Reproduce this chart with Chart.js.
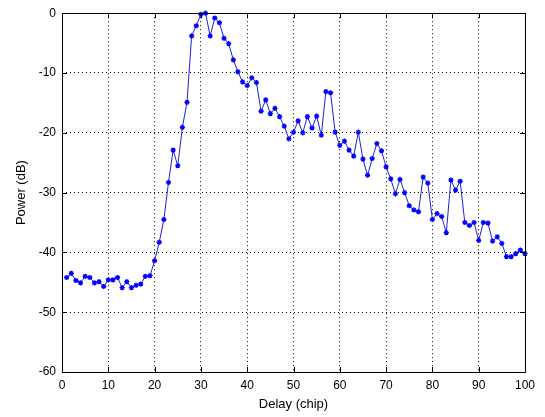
<!DOCTYPE html>
<html>
<head>
<meta charset="utf-8">
<script src="https://cdn.jsdelivr.net/npm/chart.js@4/dist/chart.umd.min.js"></script>
<style>
  body { margin: 0; background: #fff; }
  #wrap { width: 545px; height: 417px; }
</style>
</head>
<body>
<div id="wrap"><canvas id="c" width="545" height="417"></canvas></div>
<script>
// data
const delays = [];
for (let i = 1; i <= 100; i++) delays.push(i);

const power = [
  -44.2, -43.5, -44.7, -45.1, -44.0, -44.2, -45.1, -44.9, -45.7, -44.6,
  -44.6, -44.2, -45.9, -44.9, -45.9, -45.5, -45.3, -44.0, -43.9, -41.4,
  -38.3, -34.5, -28.3, -22.9, -25.5, -19.1, -14.9, -3.8, -2.1, -0.2,
  0.0, -3.8, -0.8, -1.6, -4.2, -5.1, -7.8, -9.8, -11.5, -12.1,
  -10.8, -11.6, -16.4, -14.5, -16.8, -15.9, -17.3, -18.9, -21.0, -19.9,
  -18.0, -20.0, -17.3, -19.2, -17.2, -20.4, -13.1, -13.3, -19.9, -22.1,
  -21.4, -22.9, -23.9, -19.9, -24.4, -27.1, -24.3, -21.8, -23.0, -25.7,
  -27.7, -30.2, -27.8, -30.0, -32.2, -32.9, -33.2, -27.4, -28.4, -34.5,
  -33.5, -34.0, -36.7, -27.9, -29.6, -28.1, -35.0, -35.5, -35.0, -38.0,
  -35.0, -35.1, -38.1, -37.4, -38.5, -40.7, -40.7, -40.2, -39.6, -40.2
];

const xTicks = [0, 10, 20, 30, 40, 50, 60, 70, 80, 90, 100];
const yTicks = [-60, -50, -40, -30, -20, -10, 0];

const points = delays.map((d, i) => ({ x: d, y: power[i] }));

// matlab style box with inward ticks on all four sides
const boxPlugin = {
  id: 'box',
  afterDraw(chart) {
    const ctx = chart.ctx;
    const a = chart.chartArea;
    const xs = chart.scales.x, ys = chart.scales.y;
    const len = 5;
    ctx.save();
    ctx.strokeStyle = '#000';
    ctx.lineWidth = 1;
    ctx.setLineDash([]);
    ctx.strokeRect(Math.round(a.left) + 0.5, Math.round(a.top) + 0.5,
      Math.round(a.right - a.left), Math.round(a.bottom - a.top));
    ctx.beginPath();
    xTicks.forEach(v => {
      const px = Math.round(xs.getPixelForValue(v)) + 0.5;
      ctx.moveTo(px, a.bottom); ctx.lineTo(px, a.bottom - len);
      ctx.moveTo(px, a.top); ctx.lineTo(px, a.top + len);
    });
    yTicks.forEach(v => {
      const py = Math.round(ys.getPixelForValue(v)) + 0.5;
      ctx.moveTo(a.left, py); ctx.lineTo(a.left + len, py);
      ctx.moveTo(a.right, py); ctx.lineTo(a.right - len, py);
    });
    ctx.stroke();
    ctx.restore();
  }
};

const tickFont = { family: 'Liberation Sans, Arial, sans-serif', size: 12 };
const titleFont = { family: 'Liberation Sans, Arial, sans-serif', size: 13 };

new Chart(document.getElementById('c'), {
  type: 'line',
  data: {
    datasets: [{
      data: points,
      borderColor: '#2020d0',
      borderWidth: 1,
      backgroundColor: '#0000ff',
      pointStyle: 'star',
      pointRadius: 2.6,
      pointBorderWidth: 1.3,
      pointBorderColor: '#0000ff',
      tension: 0,
      clip: false
    }]
  },
  options: {
    responsive: false,
    animation: false,
    layout: { padding: { top: 8, right: 20, left: 0, bottom: 0 } },
    plugins: { legend: { display: false }, tooltip: { enabled: false } },
    scales: {
      x: {
        type: 'linear',
        min: 0, max: 100,
        afterFit(s) { s.height = 45; },
        ticks: { stepSize: 10, color: '#000', font: tickFont, padding: 6, maxRotation: 0 },
        grid: { color: '#000', lineWidth: 1, drawTicks: false },
        border: { display: false, dash: [1, 3] },
        title: { display: true, text: 'Delay (chip)', color: '#000', font: titleFont, padding: { top: 0, bottom: 5 } }
      },
      y: {
        type: 'linear',
        min: -60, max: 0,
        afterFit(s) { s.width = 62; },
        ticks: { stepSize: 10, color: '#000', font: tickFont, padding: 6 },
        grid: { color: '#000', lineWidth: 1, drawTicks: false },
        border: { display: false, dash: [1, 3] },
        title: { display: true, text: 'Power (dB)', color: '#000', font: titleFont, padding: { top: 14, bottom: 0 } }
      }
    }
  },
  plugins: [boxPlugin]
});
</script>
</body>
</html>
